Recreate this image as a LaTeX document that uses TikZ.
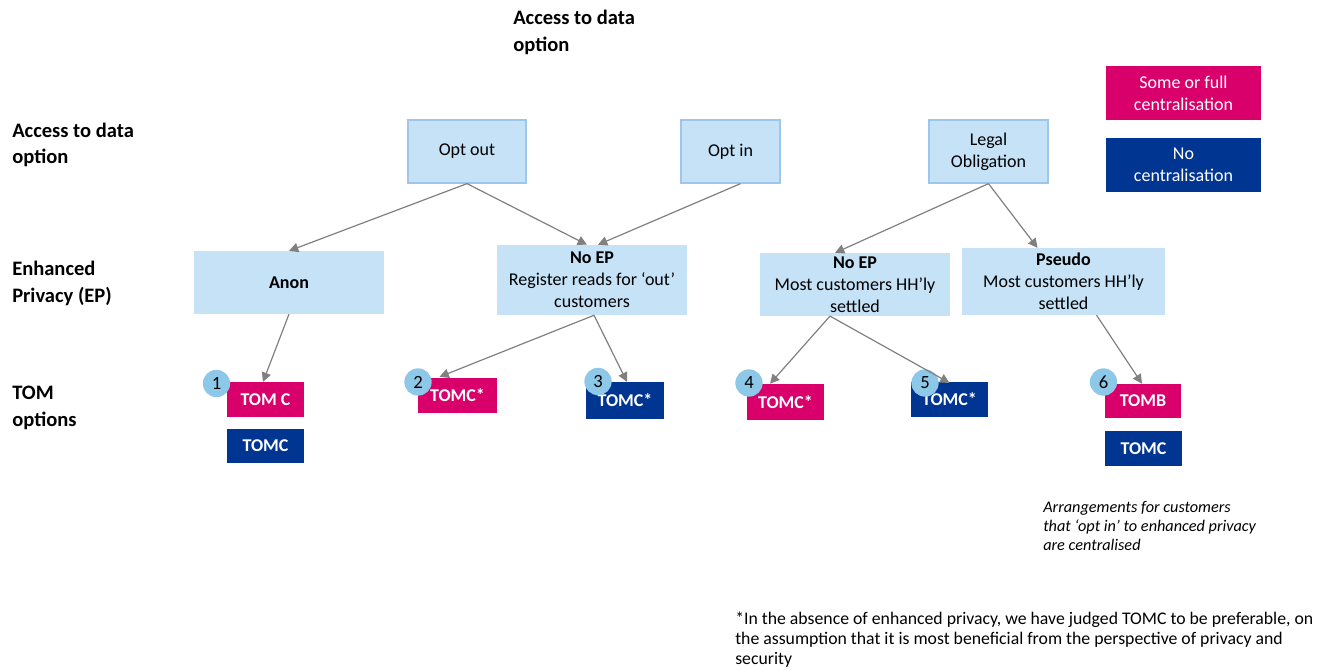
\documentclass[tikz,border=0pt]{standalone}
\usepackage{fontspec}
\setmainfont{Carlito}
\usetikzlibrary{arrows.meta,calc}
\definecolor{lblue}{HTML}{C5E2F7}
\definecolor{lborder}{HTML}{9DC6EA}
\definecolor{magent}{HTML}{D9006C}
\definecolor{navy}{HTML}{003591}
\definecolor{circ}{HTML}{8DC8E8}
\definecolor{arrgray}{HTML}{808080}
\tikzset{
  optbox/.style={draw=lborder, line width=1.2pt, fill=lblue, inner sep=0pt, align=center, font=\fontsize{13.5}{16.5}\selectfont},
  epbox/.style={fill=lblue, inner sep=0pt, align=center, font=\fontsize{13.5}{16.5}\selectfont},
  tompink/.style={fill=magent, text=white, inner sep=0pt, font=\fontsize{13.5}{15}\selectfont\bfseries},
  tomnavy/.style={fill=navy, text=white, inner sep=0pt, font=\fontsize{13.5}{15}\selectfont\bfseries},
  legpink/.style={fill=magent, text=white, inner sep=0pt, align=center, font=\fontsize{13.5}{16.5}\selectfont},
  legnavy/.style={fill=navy, text=white, inner sep=0pt, align=center, font=\fontsize{13.5}{16.5}\selectfont},
  badge/.style={circle, fill=circ, minimum size=20.5pt, inner sep=0pt, font=\fontsize{14}{16}\selectfont},
  rowlabel/.style={anchor=west, align=left, inner sep=0pt, font=\fontsize{15.4}{20}\selectfont\bfseries},
  conn/.style={draw=arrgray, line width=0.9pt, -{Triangle[length=7pt,width=7pt]}}
}
\begin{document}
\begin{tikzpicture}[x=0.75pt,y=-0.75pt]
\path[use as bounding box] (0,0) rectangle (1336,670);

% titles
\node[rowlabel] (title) at (513,32.5) {Access to data\\option};
\node[rowlabel] (lab1) at (12,145) {Access to data\\option};
\node[rowlabel] (lab2) at (12,283.5) {Enhanced\\Privacy (EP)};
\node[rowlabel] (lab3) at (12,408) {TOM\\options};

% top row
\node[optbox, minimum width=88.5pt, minimum height=47pt] (optout) at (467,151.5) {Opt out};
\node[optbox, minimum width=74pt, minimum height=47pt] (optin) at (730.5,151.5) {Opt in};
\node[optbox, minimum width=89pt, minimum height=47pt] (legal) at (988.5,151.5) {Legal\\Obligation};

% EP row
\node[epbox, minimum width=142.5pt, minimum height=47pt] (anon) at (289,282.5) {\textbf{Anon}};
\node[epbox, minimum width=142.5pt, minimum height=52.5pt] (noep1) at (592,280) {\textbf{No EP}\\Register reads for `out'\\customers};
\node[epbox, minimum width=142.5pt, minimum height=47pt] (noep2) at (855,284.5) {\textbf{No EP}\\Most customers HH'ly\\settled};
\node[epbox, minimum width=152pt, minimum height=50pt] (pseudo) at (1063.5,281.5) {\textbf{Pseudo}\\Most customers HH'ly\\settled};

% legend
\node[legpink, minimum width=116pt, minimum height=40.5pt] (leg1) at (1183.5,93) {Some or full\\centralisation};
\node[legnavy, minimum width=116pt, minimum height=40.5pt] (leg2) at (1183.5,165) {No\\centralisation};

% TOM row
\node[tompink, minimum width=58pt, minimum height=26pt] (tom1) at (265.5,399.5) {TOM C};
\node[tomnavy, minimum width=58pt, minimum height=25.5pt] (tom1b) at (265.5,446) {TOMC};
\node[tompink, minimum width=59pt, minimum height=26pt] (tom2) at (457.5,395.5) {TOMC*};
\node[tomnavy, minimum width=58.5pt, minimum height=27.5pt] (tom3) at (625,400.5) {TOMC*};
\node[tompink, minimum width=58pt, minimum height=27pt] (tom4) at (785.5,402) {TOMC*};
\node[tomnavy, minimum width=58pt, minimum height=26pt] (tom5) at (949.5,399.5) {TOMC*};
\node[tompink, minimum width=57pt, minimum height=25.5pt] (tom6) at (1143,401) {TOMB};
\node[tomnavy, minimum width=58pt, minimum height=26pt] (tom6b) at (1143.5,448.5) {TOMC};

% badges
\node[badge] (b1) at (216.5,383.5) {1};
\node[badge] (b2) at (418,382) {2};
\node[badge] (b3) at (598,381.5) {3};
\node[badge] (b4) at (749,383) {4};
\node[badge] (b5) at (925,383) {5};
\node[badge] (b6) at (1103.5,382) {6};

% connectors
\draw[conn] (optout.south) -- (anon.north);
\draw[conn] (optout.south) -- ($(noep1.north)+(-5,0)$);
\draw[conn] ($(optin.south)+(10,0)$) -- ($(noep1.north)+(6,0)$);
\draw[conn] (legal.south) -- ($(noep2.north)+(-20,0)$);
\draw[conn] (legal.south) -- ($(pseudo.north)+(-26,0)$);
\draw[conn] (anon.south) -- ($(tom1.north)+(-2.5,0)$);
\draw[conn] ($(noep1.south)+(2,0)$) -- ($(tom2.north)+(-18,-1)$);
\draw[conn] ($(noep1.south)+(2,0)$) -- ($(tom3.north)+(2,0)$);
\draw[conn] ($(noep2.south)+(-25,0)$) -- ($(tom4.north)+(-15.5,0)$);
\draw[conn] ($(noep2.south)+(-25,0)$) -- ($(tom5.north)+(0,1)$);
\draw[conn] ($(pseudo.south)+(33,0)$) -- ($(tom6.north)+(-1,0)$);

% notes
\node[anchor=west, align=left, inner sep=0pt, font=\fontsize{12.2}{14.25}\selectfont\itshape] (note) at (1043,526) {Arrangements for customers\\that `opt in' to enhanced privacy\\are centralised};
\node[anchor=west, align=left, inner sep=0pt, font=\fontsize{13.3}{15}\selectfont] (foot) at (735,640) {*In the absence of enhanced privacy, we have judged TOMC to be preferable, on\\the assumption that it is most beneficial from the perspective of privacy and\\security};
\end{tikzpicture}
\end{document}
